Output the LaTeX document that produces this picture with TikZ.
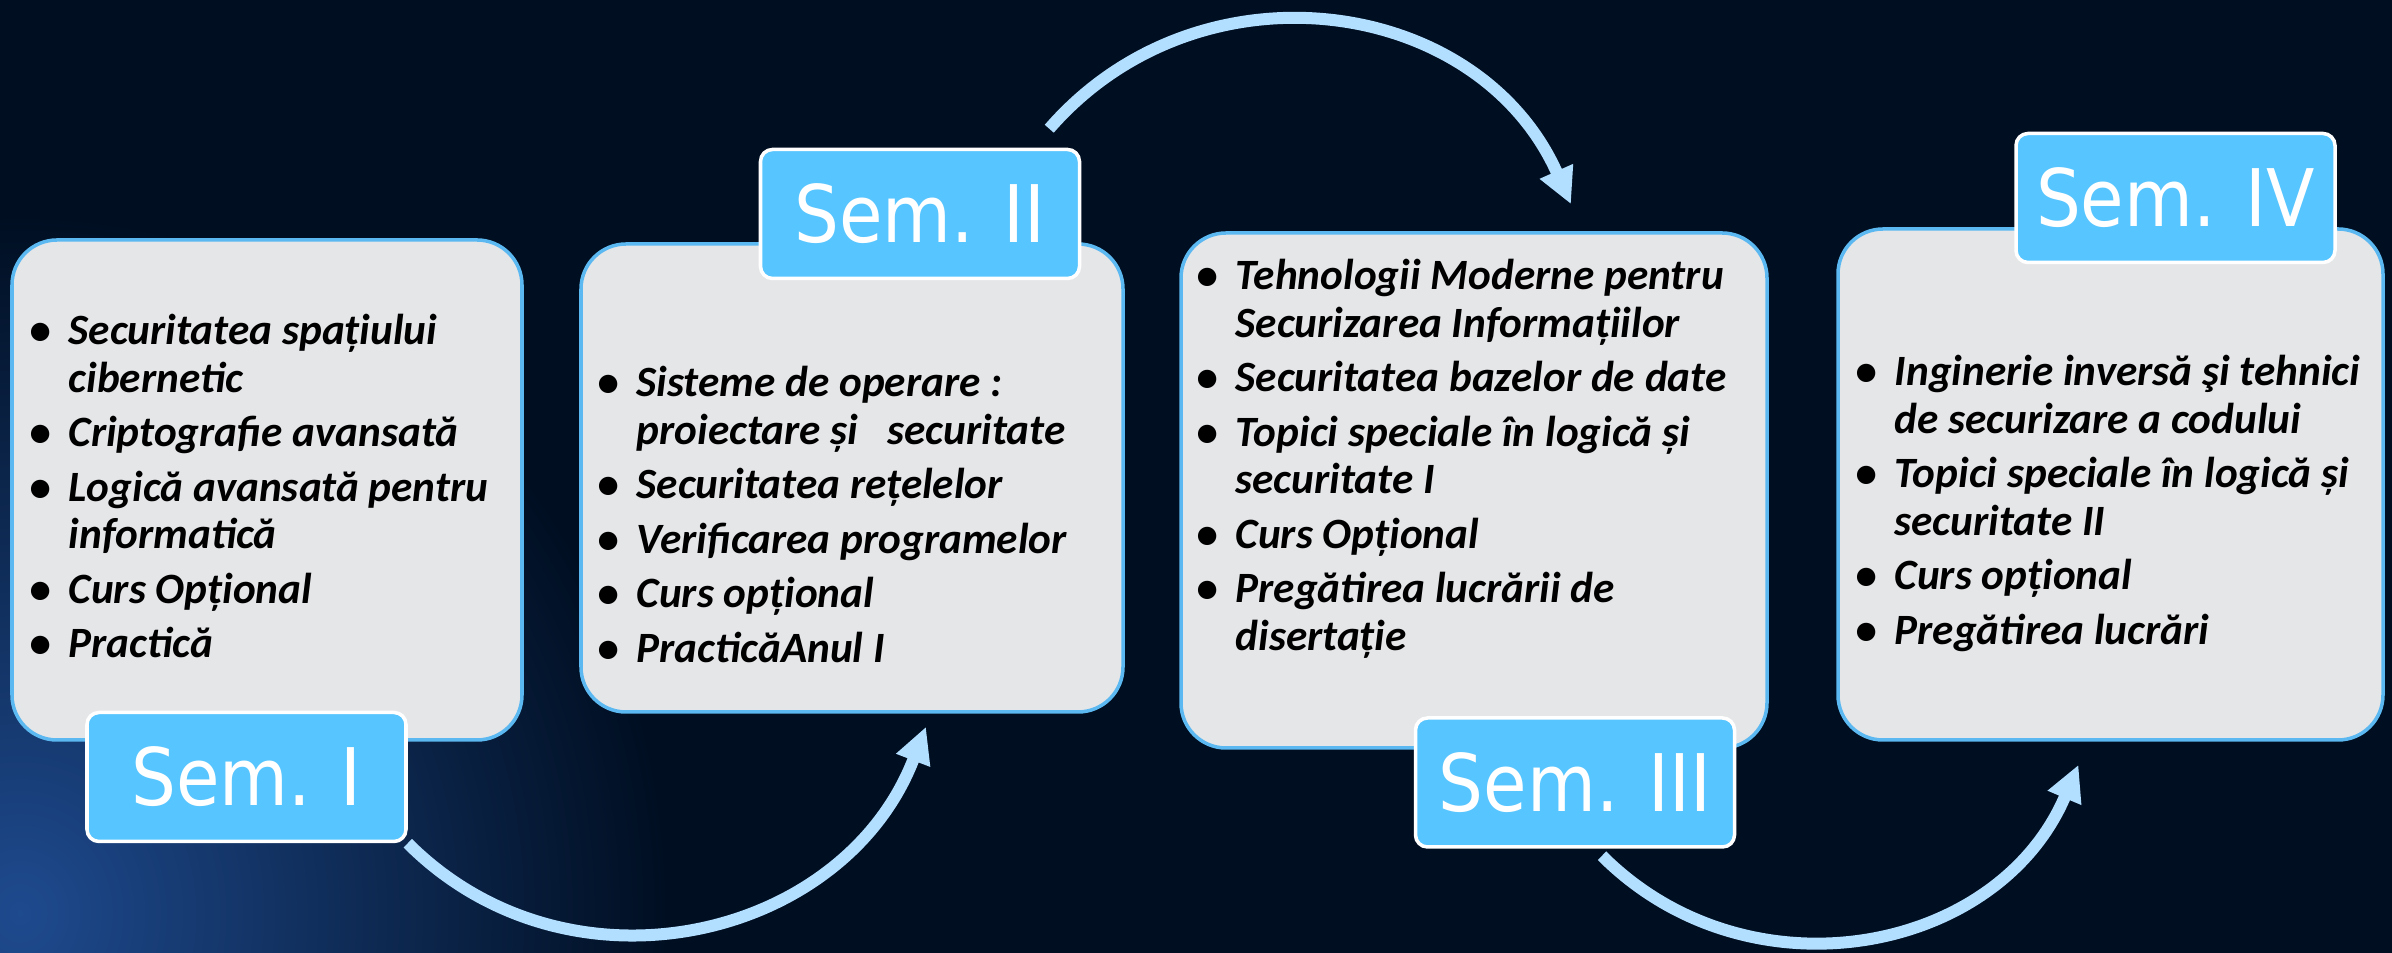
\documentclass[tikz,border=0pt]{standalone}
\usepackage{fontspec}
\usepackage{array}
\setmainfont{Carlito}
\newfontfamily\semfont[FakeStretch=0.89]{DejaVu Sans}
\usetikzlibrary{arrows.meta, positioning, backgrounds}
\definecolor{bgnavy}{RGB}{0,14,33}
\definecolor{bgglow}{RGB}{30,74,142}
\definecolor{cardfill}{RGB}{229,230,232}
\definecolor{cardline}{RGB}{92,184,240}
\definecolor{semblue}{RGB}{87,197,255}
\definecolor{flowblue}{RGB}{178,222,255}
% bullet list set as a two-column tabular, first baseline = node base
\newcommand{\courselist}[1]{{\fontsize{12.3}{13.5}\selectfont\bfseries\itshape
  \begin{tabular}[t]{@{}w{c}{0.27cm}@{\hspace{0.145cm}}l@{}}#1\end{tabular}}}

\begin{document}
\begin{tikzpicture}[
    card/.style={rectangle, rounded corners=0.45cm, draw=cardline, line width=1pt, fill=cardfill},
    semtag/.style={rectangle, rounded corners=0.12cm, draw=white, line width=1pt, fill=semblue,
                   minimum width=3.19cm, minimum height=1.29cm, text=white,
                   font=\semfont\fontsize{22.6}{26}\selectfont},
    flow/.style={flowblue, line width=0.12cm, -{Triangle[length=0.36cm, width=0.34cm]}}]
  \useasboundingbox (0,0) rectangle (23.92,9.53);

  % semester cards
  \node[card, minimum width=5.10cm, minimum height=5.00cm] (b1) at (2.67, 4.63) {};
  \node[card, minimum width=5.42cm, minimum height=4.68cm] (b2) at (8.52, 4.75) {};
  \node[card, minimum width=5.86cm, minimum height=5.15cm] (b3) at (14.74, 4.625) {};
  \node[card, minimum width=5.45cm, minimum height=5.11cm] (b4) at (21.105, 4.685) {};

  % course lists
  \node[anchor=base west, inner sep=0] (t1) at (0.265, 6.08) {\courselist{
    \textbullet & Securitatea spațiului\\ & cibernetic\\[2pt]
    \textbullet & Criptografie avansată\\[2pt]
    \textbullet & Logică avansată pentru\\ & informatică\\[2pt]
    \textbullet & Curs Opțional\\[2pt]
    \textbullet & Practică}};
  \node[anchor=base west, inner sep=0] (t2) at (5.945, 5.56) {\courselist{
    \textbullet & Sisteme de operare :\\ & proiectare și \ \ securitate\\[2pt]
    \textbullet & Securitatea rețelelor\\[2pt]
    \textbullet & Verificarea programelor\\[2pt]
    \textbullet & Curs opțional\\[2pt]
    \textbullet & PracticăAnul I}};
  \node[anchor=base west, inner sep=0] (t3) at (11.935, 6.63) {\courselist{
    \textbullet & Tehnologii Moderne pentru\\ & Securizarea Informațiilor\\[2pt]
    \textbullet & Securitatea bazelor de date\\[2pt]
    \textbullet & Topici speciale în logică și\\ & securitate I\\[2pt]
    \textbullet & Curs Opțional\\[2pt]
    \textbullet & Pregătirea lucrării de\\ & disertație}};
  \node[anchor=base west, inner sep=0] (t4) at (18.525, 5.67) {\courselist{
    \textbullet & Inginerie inversă şi tehnici\\ & de securizare a codului\\[2pt]
    \textbullet & Topici speciale în logică și\\ & securitate II\\[2pt]
    \textbullet & Curs opțional\\[2pt]
    \textbullet & Pregătirea lucrări}};

  % semester tags
  \node[semtag] (s1) at (2.465, 1.76) {Sem. I};
  \node[semtag] (s2) at (9.20, 7.39) {Sem. II};
  \node[semtag] (s3) at (15.75, 1.705) {Sem. III};
  \node[semtag] (s4) at (21.755, 7.55) {Sem. IV};

  \begin{scope}[on background layer]
    \fill[bgnavy] (0,0) rectangle (23.92,9.53);
    \begin{scope}
      \clip (0,0) rectangle (23.92,9.53);
      \shade[inner color=bgglow, outer color=bgnavy] (0.2,0.4) ellipse (6.5cm and 7cm);
    \end{scope}
    % arrows between semesters
    \draw[flow] (s1.south east) to[out=-45, in=-111, looseness=1.1] ([xshift=0.74cm, yshift=-0.13cm]b2.south);
    \draw[flow] ([xshift=-0.32cm, yshift=0.19cm]s2.north east) to[out=49, in=114, looseness=1.11] ([xshift=0.97cm, yshift=0.27cm]b3.north);
    \draw[flow] ([xshift=0.27cm, yshift=-0.07cm]s3.south) to[out=-45, in=-113, looseness=1.09] ([xshift=-0.32cm, yshift=-0.23cm]b4.south);
  \end{scope}
\end{tikzpicture}
\end{document}
